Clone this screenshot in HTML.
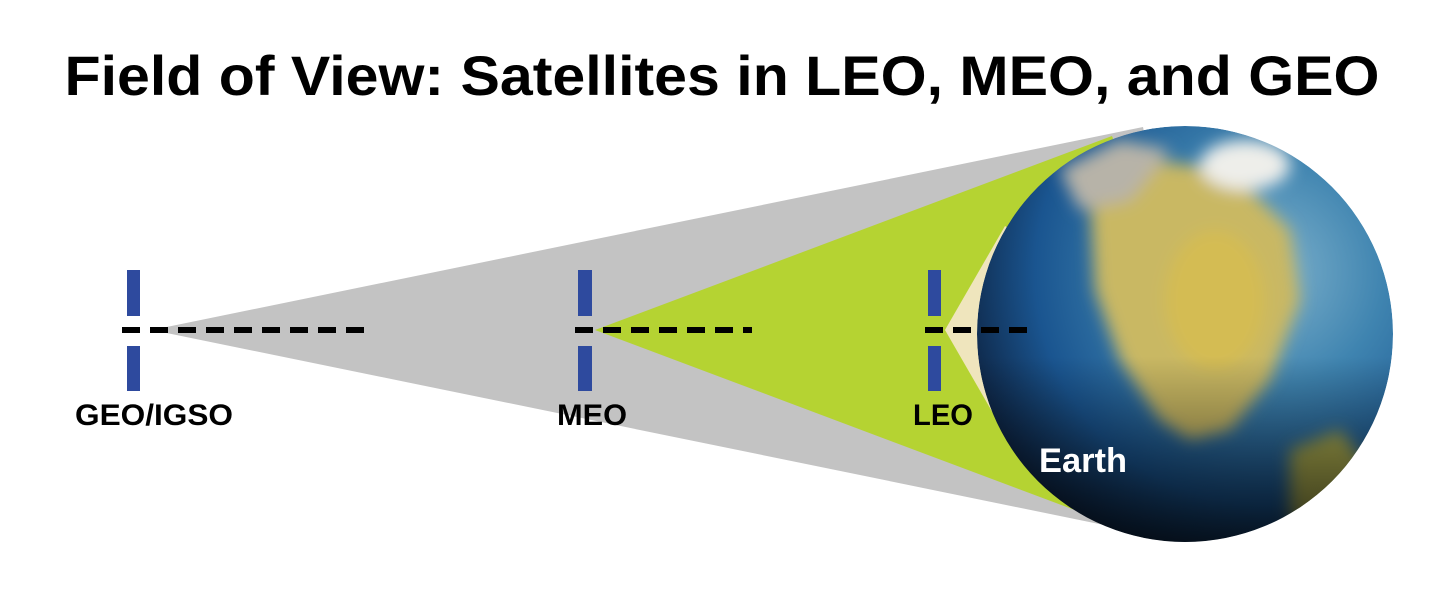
<!DOCTYPE html>
<html><head><meta charset="utf-8"><style>
html,body{margin:0;padding:0;background:#fff;width:1450px;height:600px;overflow:hidden}
svg{display:block}
</style></head><body>
<svg width="1450" height="600" viewBox="0 0 1450 600" xmlns="http://www.w3.org/2000/svg">
<defs>
<radialGradient id="ocean" cx="0.7" cy="0.35" r="0.8">
<stop offset="0" stop-color="#7fb2cc"/>
<stop offset="0.35" stop-color="#3f84b0"/>
<stop offset="0.7" stop-color="#1a5590"/>
<stop offset="1" stop-color="#0b1a33"/>
</radialGradient>
<linearGradient id="dark" x1="0" y1="0" x2="0" y2="1">
<stop offset="0.55" stop-color="#000" stop-opacity="0"/>
<stop offset="1" stop-color="#000" stop-opacity="0.75"/>
</linearGradient>
<filter id="blur" x="-20%" y="-20%" width="140%" height="140%"><feGaussianBlur stdDeviation="8"/></filter>
<clipPath id="ec"><circle cx="1185" cy="334" r="208"/></clipPath>
</defs>
<text x="722" y="95" text-anchor="middle" font-family="Liberation Sans, sans-serif" font-weight="bold" font-size="56" textLength="1315" lengthAdjust="spacingAndGlyphs" fill="#000">Field of View: Satellites in LEO, MEO, and GEO</text>
<polygon points="152,330 1143,127 1185,334 1143,533" fill="#c3c3c3"/>
<polygon points="595,330 1112,136 1185,334 1112,524" fill="#b5d332"/>
<polygon points="945,330 1005,226 1185,334 1005,434" fill="#efe5bd"/>
<g clip-path="url(#ec)">
<circle cx="1185" cy="334" r="208" fill="url(#ocean)"/>
<g filter="url(#blur)">
<path d="M1090,200 L1150,160 L1230,170 L1290,230 L1300,300 L1270,380 L1230,430 L1190,440 L1160,420 L1120,360 L1095,290 Z" fill="#c9b863"/>
<path d="M1060,170 L1120,140 L1170,150 L1130,200 L1080,210 Z" fill="#b7b3a8"/>
<ellipse cx="1245" cy="165" rx="45" ry="25" fill="#eeeeea"/>
<path d="M1290,450 L1340,430 L1370,470 L1330,540 L1290,520 Z" fill="#a9a94e"/>
<ellipse cx="1215" cy="300" rx="50" ry="70" fill="#d4bc52"/>
</g>
<rect x="970" y="120" width="430" height="430" fill="url(#dark)"/>
</g>
<g fill="#2e4a9e">
<rect x="127" y="270" width="13" height="46"/><rect x="127" y="346" width="13" height="45"/>
<rect x="578" y="270" width="14" height="46"/><rect x="578" y="346" width="14" height="45"/>
<rect x="928" y="270" width="13" height="46"/><rect x="928" y="346" width="13" height="45"/>
</g>
<g stroke="#000" stroke-width="6" stroke-dasharray="18,10">
<line x1="122" y1="330" x2="370" y2="330"/>
<line x1="575" y1="330" x2="752" y2="330"/>
<line x1="925" y1="330" x2="1036" y2="330"/>
</g>
<g font-family="Liberation Sans, sans-serif" font-weight="bold" font-size="30" fill="#000">
<text x="75" y="425" textLength="158" lengthAdjust="spacingAndGlyphs">GEO/IGSO</text>
<text x="557" y="425" textLength="70" lengthAdjust="spacingAndGlyphs">MEO</text>
<text x="913" y="425" textLength="60" lengthAdjust="spacingAndGlyphs">LEO</text>
</g>
<text x="1039" y="472" font-family="Liberation Sans, sans-serif" font-weight="bold" font-size="34" fill="#fff" textLength="88" lengthAdjust="spacingAndGlyphs">Earth</text>
</svg>
</body></html>
